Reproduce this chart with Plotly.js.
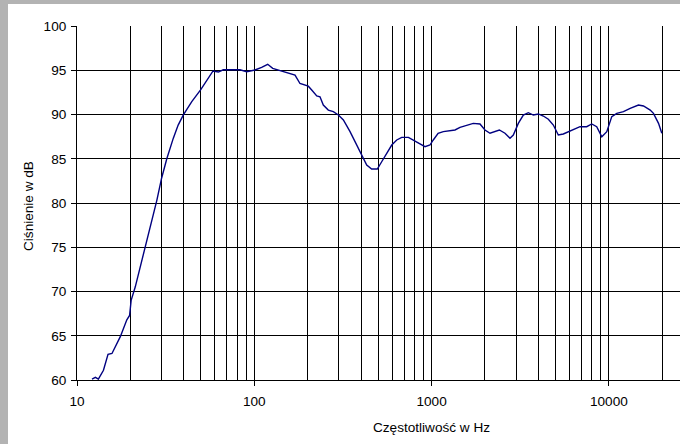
<!DOCTYPE html>
<html>
<head>
<meta charset="utf-8">
<script src="https://cdn.plot.ly/plotly-3.0.1.min.js"></script>
<style>
html,body{margin:0;padding:0;background:#b3b3b3;width:680px;height:444px;overflow:hidden;}
#chart{position:absolute;left:8px;top:4px;width:672px;height:440px;background:#fff;}
</style>
</head>
<body>
<div id="chart"></div>
<script>
var freq = [12.15,12.7,13.2,14.1,14.96,15.75,17.55,19.1,19.8,20.2,21.3,22.75,24.3,25.9,27.3,28.2,30.0,32.1,34.9,37.2,39.8,44.4,49.9,55.0,58.5,62.7,66.8,75,83,90.6,100.9,110,119,127,139.6,155.6,169.7,181,201.6,210.8,225,234.7,245,261.5,279,298,318,346.7,378,403.5,430.6,459,494,523,558,596,636,678,740,806,860,918,979,1022,1088,1164,1270,1355,1446,1577,1718,1875,2000,2135,2279,2411,2594,2768,2890,3084,3291,3512,3748,4000,4268,4555,4859,5184,5533,5902,6300,6871,7495,8000,8537,9116,9730,10380,11080,12080,13180,14680,15670,17100,17840,19050,19880];
var spl = [60.1,60.3,60.1,61.1,62.9,63.0,64.9,66.8,67.3,69.0,70.5,72.8,75.1,77.3,79.3,80.3,82.8,85.0,87.3,88.8,89.95,91.45,92.8,94.1,94.92,94.8,95.05,95.05,95.05,94.84,95.03,95.33,95.67,95.22,94.95,94.65,94.46,93.5,93.2,92.77,92.1,92.0,91.07,90.5,90.32,89.94,89.38,88.06,86.55,85.42,84.3,83.84,83.84,84.66,85.6,86.55,87.12,87.42,87.42,87.04,86.67,86.36,86.55,87.12,87.88,88.06,88.17,88.25,88.55,88.81,89.0,88.93,88.25,87.88,88.06,88.25,87.88,87.31,87.68,89.0,89.94,90.2,89.94,90.06,89.83,89.46,88.81,87.68,87.8,88.06,88.33,88.62,88.62,88.93,88.62,87.49,88.06,89.76,90.13,90.32,90.7,91.07,90.96,90.5,90.13,89.0,87.88];
var xTickVals = [10,100,1000,10000];
var xTickText = ["10","100","1000","10000"];
var xGridVals = [20,30,40,50,60,70,80,90,200,300,400,500,600,700,800,900,2000,3000,4000,5000,6000,7000,8000,9000,20000];
var yTickVals = [60,65,70,75,80,85,90,95,100];
var xTitle = "Częstotliwość w Hz";
var yTitle = "Ciśnienie w dB";

var font = {family:"Liberation Sans, Arial, sans-serif", size:13.6, color:"#000"};
Plotly.newPlot("chart", [{
  x: freq, y: spl, type: "scatter", mode: "lines",
  line: {color:"#000080", width:1.4}, hoverinfo:"none"
}], {
  width: 672, height: 440,
  margin: {l:69, r:0, t:22, b:64},
  paper_bgcolor: "#fff", plot_bgcolor: "#fff",
  showlegend: false,
  font: font,
  xaxis: {
    type: "log", range: [1, 4.401],
    tickmode: "array", tickvals: xTickVals, ticktext: xTickText,
    ticks: "outside", ticklen: 5, tickcolor: "#000", tickwidth: 1,
    ticklabelstandoff: 4,
    showgrid: true, gridcolor: "#000", gridwidth: 1,
    minor: {tickmode: "array", tickvals: xGridVals, showgrid: true, gridcolor: "#000", gridwidth: 1, ticks: ""},
    showline: true, linecolor: "#000", linewidth: 1,
    zeroline: false, tickfont: font, fixedrange: true
  },
  yaxis: {
    range: [60, 100],
    tickmode: "array", tickvals: yTickVals,
    ticks: "outside", ticklen: 5, tickcolor: "#000", tickwidth: 1,
    ticklabelstandoff: 2,
    showgrid: true, gridcolor: "#000", gridwidth: 1,
    showline: true, linecolor: "#000", linewidth: 1,
    zeroline: false, tickfont: font, fixedrange: true
  },
  annotations: [
    {text: xTitle, xref:"paper", yref:"paper", x:0.5887, y:-0.1328, xanchor:"center", yanchor:"middle", showarrow:false, font:font},
    {text: yTitle, xref:"paper", yref:"paper", x:-0.0813, y:0.4915, xanchor:"center", yanchor:"middle", textangle:-90, showarrow:false, font:font}
  ]
}, {staticPlot:true});
</script>
</body>
</html>
